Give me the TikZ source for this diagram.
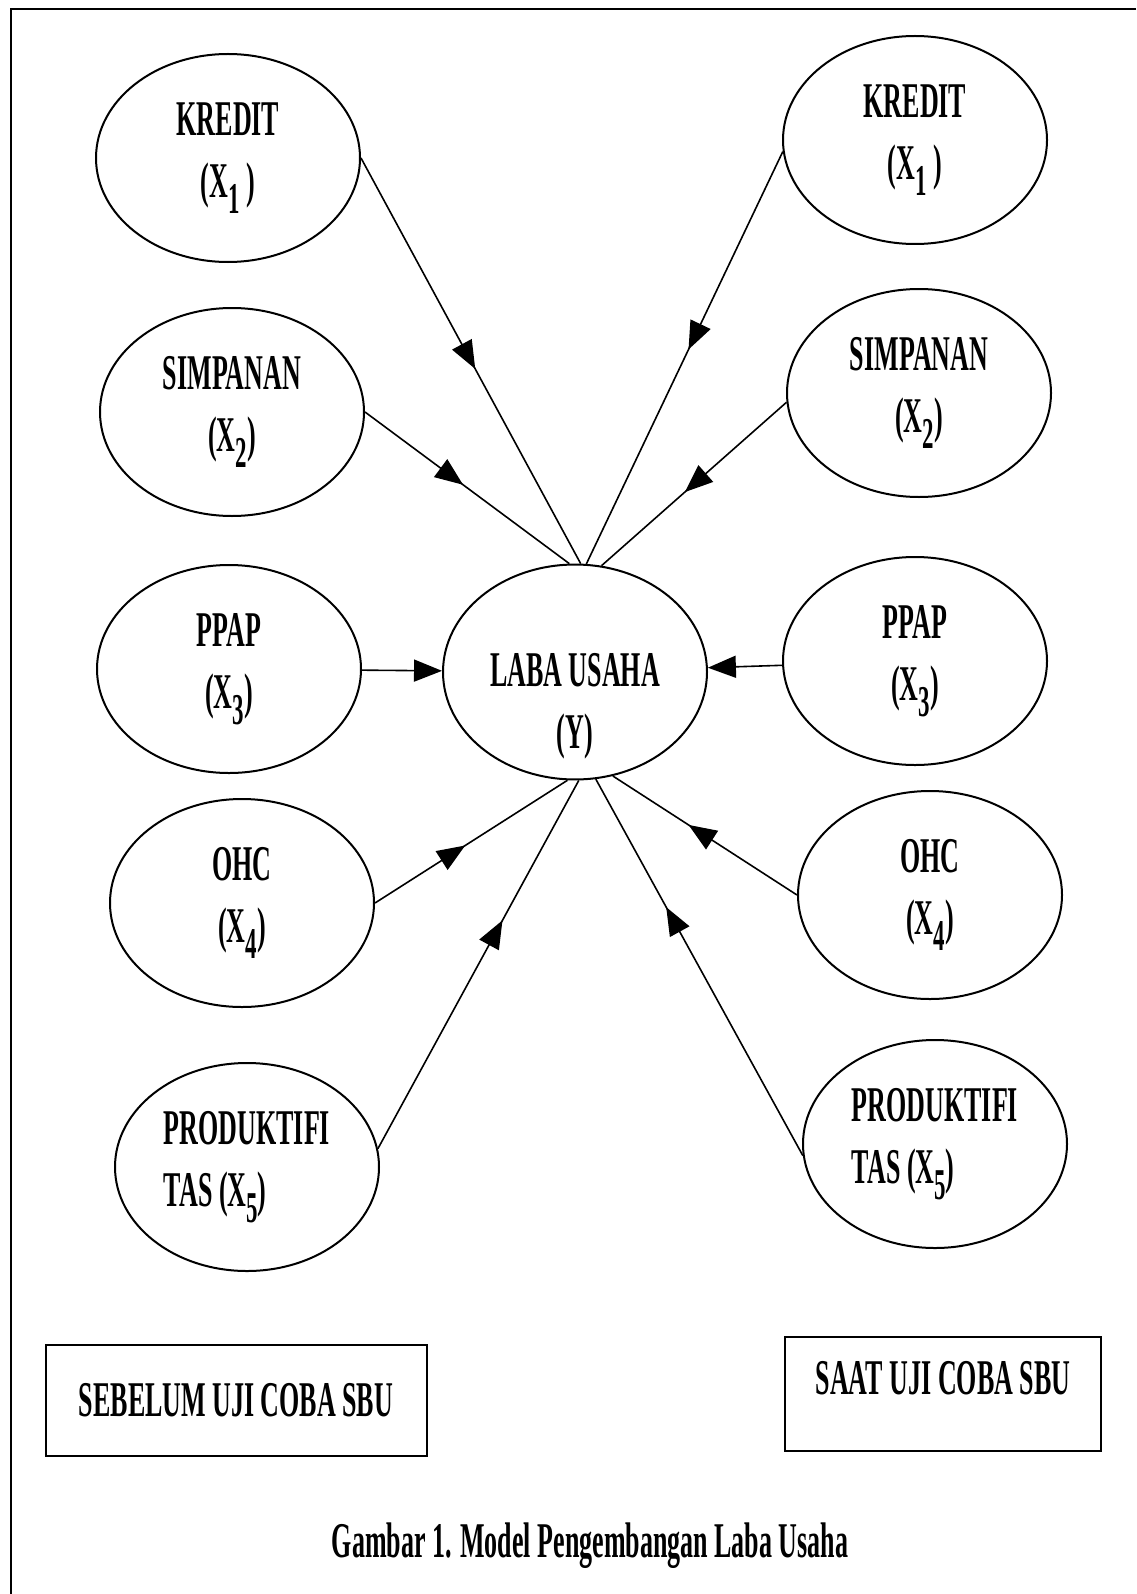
\documentclass[tikz,border=0pt]{standalone}
\usepackage{fontspec}
\setmainfont[FakeStretch=0.52]{Liberation Serif}
\usepackage{tikz}
\usetikzlibrary{shapes.geometric,arrows.meta,positioning,decorations.markings}
\tikzstyle{var} = [ellipse, draw, line width=1pt, minimum width=132pt,
    minimum height=104pt, inner sep=0pt, align=center,
    font=\bfseries\fontsize{25}{31}\selectfont]
\tikzstyle{phase} = [rectangle, draw, line width=1pt, inner sep=0pt,
    font=\bfseries\fontsize{25}{31}\selectfont]
\tikzstyle{arrow} = [draw, ->, line width=0.8pt]
\tikzstyle{line} = [draw, line width=0.8pt]
\tikzset{>={Triangle[length=14pt,width=11pt]},
    midarrow/.style={postaction={decorate}, decoration={markings,
    mark=at position #1 with {\arrow{>}}}}}
\newcommand{\lowsub}[1]{\raisebox{-8pt}{\fontsize{22}{22}\selectfont #1}}

\begin{document}
\begin{tikzpicture}[x=0.5pt, y=-0.5pt, node distance=127pt]
			\useasboundingbox (0,0) rectangle (1136,1594);
			\draw [line width=1pt] (1136,9) -| (11,1594);
			% Place nodes
			\node [var, text height=76pt, text depth=-50pt] (laba) at (575,672) {LABA USAHA\\(Y)};
			
			\node [var] (kreditL) at (228,158) {KREDIT\\(X\lowsub{1} )};
			\node [var, below of=kreditL, xshift=2pt] (simpananL) {SIMPANAN\\(X\lowsub{2})};
			\node [var, below of=simpananL, node distance=128.5pt, xshift=-1.5pt] (ppapL) {PPAP\\(X\lowsub{3})};
			\node [var, below of=ppapL, node distance=117pt, xshift=6.5pt] (ohcL) {OHC\\(X\lowsub{4})};
			\node [var, below of=ohcL, node distance=132pt, xshift=2.5pt, align=left] (prodL) {PRODUKTIFI\\TAS (X\lowsub{5})};
			
			\node [var] (kreditR) at (915,140) {KREDIT\\(X\lowsub{1} )};
			\node [var, below of=kreditR, node distance=126.5pt, xshift=2pt] (simpananR) {SIMPANAN\\(X\lowsub{2})};
			\node [var, below of=simpananR, node distance=134pt, xshift=-2pt] (ppapR) {PPAP\\(X\lowsub{3})};
			\node [var, below of=ppapR, node distance=117pt, xshift=7.5pt] (ohcR) {OHC\\(X\lowsub{4})};
			\node [var, below of=ohcR, node distance=124.5pt, xshift=2.5pt, align=left] (prodR) {PRODUKTIFI\\TAS (X\lowsub{5})};
			
			\node [phase, below of=prodL, node distance=116.5pt, xshift=-5.5pt, minimum width=190.5pt, minimum height=55.5pt] (before) {SEBELUM UJI COBA SBU};
			\node [phase, below of=prodR, node distance=125pt, xshift=4pt, minimum width=158pt, minimum height=57pt, text height=14pt, text depth=14pt] (during) {SAAT UJI COBA SBU};
			\node [font=\bfseries\fontsize{25}{31}\selectfont] (caption) at (590,1546) {Gambar 1. Model Pengembangan Laba Usaha};
			
			\path [line, midarrow=0.52] (kreditL.east) -- (laba.87);
			\path [line, midarrow=0.48] (simpananL.east) -- (laba.93);
			\path [arrow] (ppapL) -- (laba);
			\path [line, midarrow=0.47] (ohcL.east) -- (laba.266);
			\path [line, midarrow=0.62] (prodL.8) -- (laba.272);
			
			\path [line, midarrow=0.48] (kreditR.185) -- (laba.84);
			\path [line, midarrow=0.55] (simpananR.184) -- (laba.76);
			\path [arrow] (ppapR) -- (laba);
			\path [line, midarrow=0.59] (ohcR.west) -- (laba.290);
			\path [line, midarrow=0.66] (prodR.185) -- (laba.281);
	\end{tikzpicture}
\end{document}
